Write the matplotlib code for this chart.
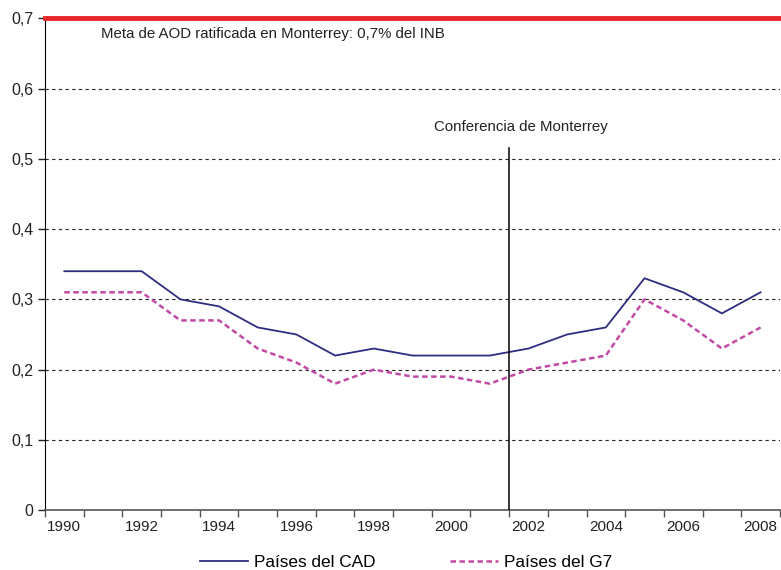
import matplotlib

matplotlib.use("Agg")

import matplotlib.pyplot as plt
from matplotlib.ticker import FuncFormatter

# Datos (AOD como % del INB)
anios = list(range(1990, 2009))
cad = [0.34, 0.34, 0.34, 0.30, 0.29, 0.26, 0.25, 0.22, 0.23, 0.22,
       0.22, 0.22, 0.23, 0.25, 0.26, 0.33, 0.31, 0.28, 0.31]
g7 = [0.31, 0.31, 0.31, 0.27, 0.27, 0.23, 0.21, 0.18, 0.20, 0.19,
      0.19, 0.18, 0.20, 0.21, 0.22, 0.30, 0.27, 0.23, 0.26]
etiquetas_x = [str(a) if (a - 1990) % 2 == 0 else "" for a in anios]
ticks_y = [0, 0.1, 0.2, 0.3, 0.4, 0.5, 0.6, 0.7]

meta = 0.7
anio_conferencia = 2002
tope_conferencia = 0.516

plt.rcParams["font.family"] = ["Liberation Sans", "DejaVu Sans"]

fig = plt.figure(figsize=(7.81, 5.70), dpi=100)
ax = fig.add_axes([0.0576, 0.105, 0.941, 0.863])

x = list(range(len(anios)))

for y in ticks_y[1:-1]:
    ax.axhline(y, color="#222222", linestyle=(0, (3, 3)), linewidth=0.8, zorder=1)

ax.axhline(meta, color="#e8262b", linewidth=3.5, zorder=3, clip_on=False)

ax.plot(x, cad, color="#2e2d7f", linewidth=1.3, label="Países del CAD", zorder=4)
ax.plot(x, g7, color="#c14aa6", linewidth=1.8, linestyle=(0, (2.2, 1.4)),
        label="Países del G7", zorder=4)

# línea de la Conferencia de Monterrey en el límite entre 2001 y 2002
xc = anios.index(anio_conferencia) - 0.5
ax.plot([xc, xc], [0, tope_conferencia], color="black", linewidth=1.1, zorder=5)
ax.text(xc + 0.3, 0.535, "Conferencia de Monterrey", ha="center", va="bottom",
        fontsize=10.8, color="#222222")
ax.text(0.95, 0.678, "Meta de AOD ratificada en Monterrey: 0,7% del INB",
        ha="left", va="center", fontsize=10.8, color="#222222")

ax.set_xlim(-0.5, len(anios) - 0.5)
ax.set_ylim(0, 0.7)

ax.set_xticks(x)
ax.set_xticklabels(etiquetas_x)
ax.set_xticks([i - 0.5 for i in range(len(anios) + 1)], minor=True)
ax.tick_params(axis="x", which="major", length=0, pad=7, labelsize=11, colors="#222222")
ax.tick_params(axis="x", which="minor", length=5, width=1, color="#555555")

ax.set_yticks(ticks_y)
ax.yaxis.set_major_formatter(FuncFormatter(lambda v, p: f"{v:.1f}".replace(".", ",") if v else "0"))
ax.tick_params(axis="y", length=5, width=1, labelsize=11.5, colors="#222222")

ax.spines["top"].set_visible(False)
ax.spines["right"].set_visible(False)
ax.spines["left"].set_color("black")
ax.spines["bottom"].set_color("#555555")
ax.spines["bottom"].set_linewidth(1.2)

fig.legend(loc="lower center", bbox_to_anchor=(0.52, -0.028), ncol=2, frameon=False,
           fontsize=12.4, handlelength=2.8, handletextpad=0.35, columnspacing=4.3)

fig.savefig("out.png", dpi=100)
